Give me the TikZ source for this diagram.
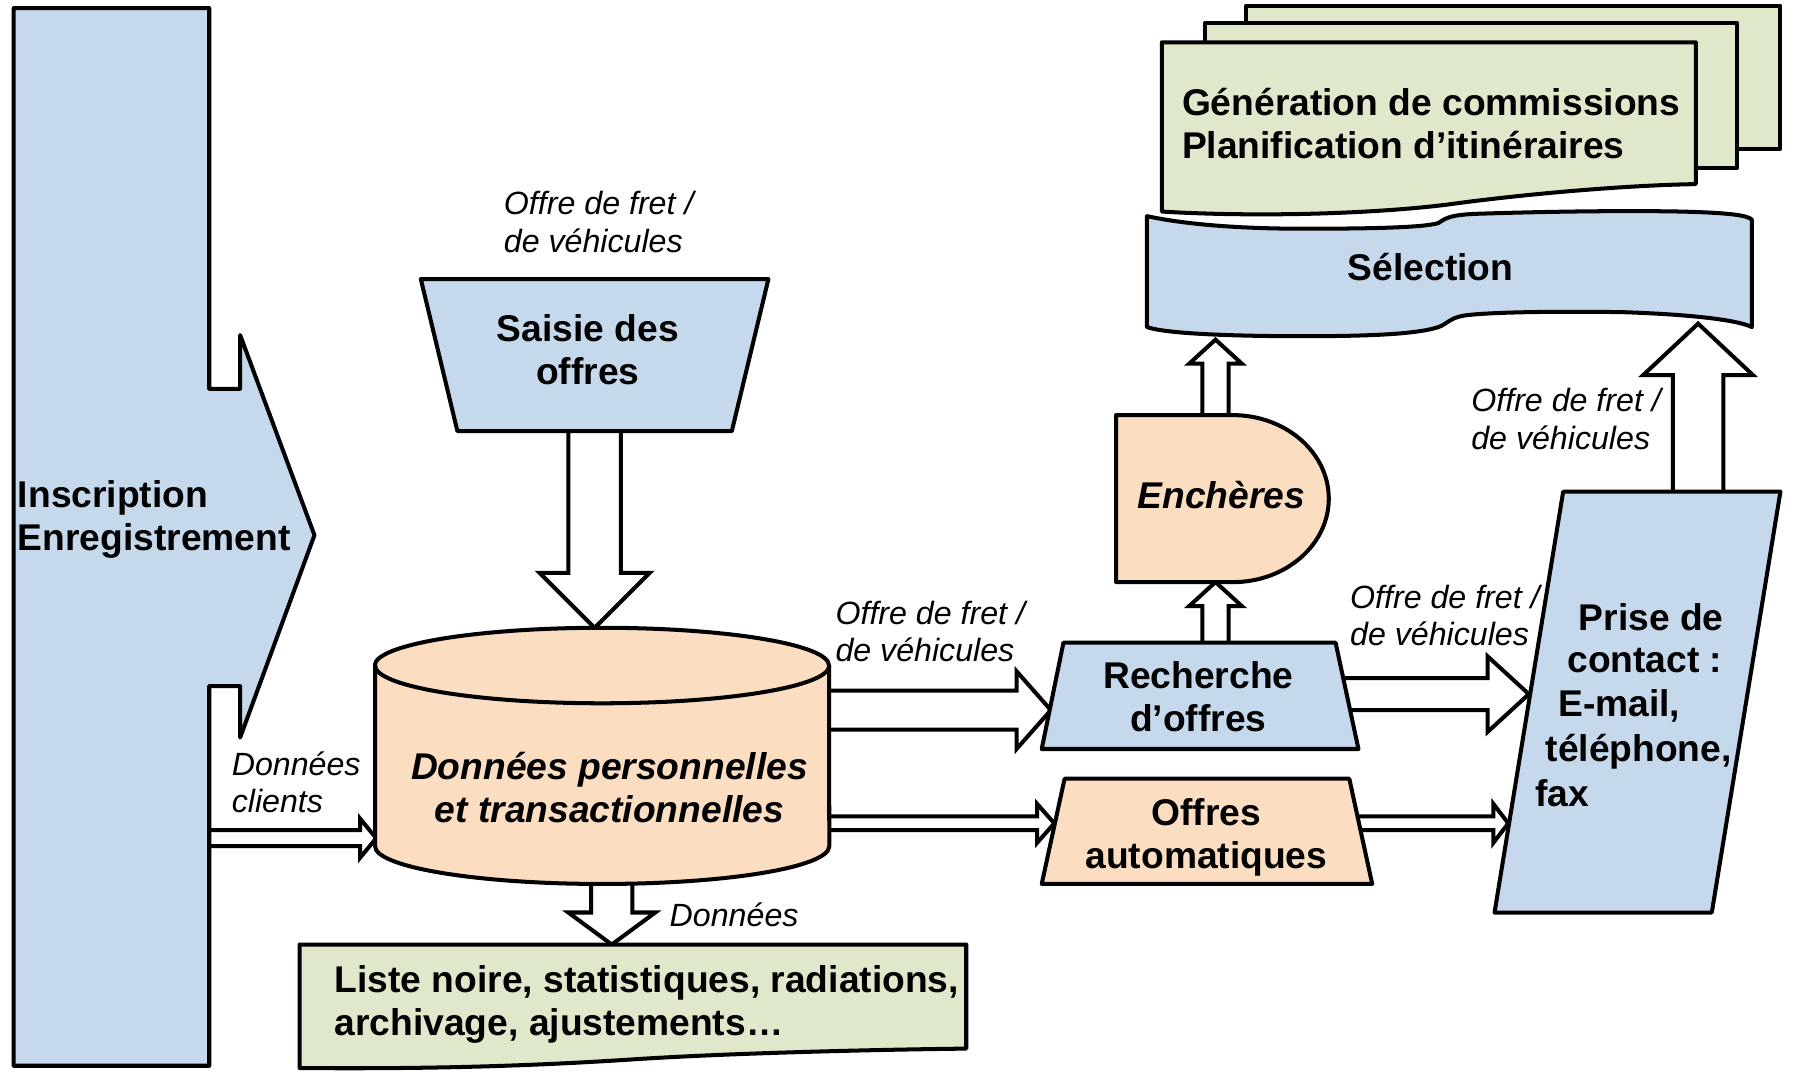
\documentclass[tikz,border=0pt]{standalone}
\usepackage{fontspec}
\setmainfont{Liberation Sans}
\usetikzlibrary{calc}
\definecolor{bfill}{HTML}{C6D8EC}
\definecolor{ofill}{HTML}{FBDDC2}
\definecolor{gfill}{HTML}{DFE8CA}
\tikzset{
  shp/.style={draw=black, line width=1pt, line join=round},
  barr/.style={draw=black, fill=white, line width=1pt, line join=miter},
  bt/.style={font=\fontsize{9.25}{10.6}\selectfont\bfseries, inner sep=0pt},
  bit/.style={font=\fontsize{9.25}{10.6}\selectfont\bfseries\itshape, inner sep=0pt},
  lbl/.style={font=\fontsize{8}{9.3}\selectfont\itshape, inner sep=0pt, anchor=base west},
}
\newcommand{\mylines}[2][l]{\begin{tabular}[t]{@{}#1@{}}#2\end{tabular}}
\newcommand{\blockarrow}[5]{%
  \coordinate (ba-hb) at ($(#2)!#5!(#1)$);
  \draw[barr] ($(#1)!#3!90:(#2)$) -- ($(ba-hb)!#3!90:(#2)$) -- ($(ba-hb)!#4!90:(#2)$) -- (#2)
    -- ($(ba-hb)!#4!-90:(#2)$) -- ($(ba-hb)!#3!-90:(#2)$) -- ($(#1)!#3!-90:(#2)$) -- cycle;}
\begin{document}
\begin{tikzpicture}[x=0.01cm, y=-0.01cm]
\useasboundingbox (0,0) rectangle (1568,941);

% ---------- connector end points ----------
\coordinate (insc-e) at (170,733);   \coordinate (cyl-w) at (329,733);
\coordinate (sai-s) at (520,370);    \coordinate (cyl-n) at (520,549);
\coordinate (cyl-s) at (535,760);    \coordinate (lst-n) at (535,826);
\coordinate (cyl-e1) at (700,621);   \coordinate (rch-w) at (919,621);
\coordinate (cyl-e2) at (700,720);   \coordinate (aut-w) at (922,720);
\coordinate (rch-e) at (1160,607);   \coordinate (pri-w1) at (1337,607);
\coordinate (aut-e) at (1180,720);   \coordinate (pri-w2) at (1319,720);
\coordinate (rch-n) at (1063,575);   \coordinate (enc-s) at (1063,509);
\coordinate (enc-n) at (1063,380);   \coordinate (sel-s1) at (1063,297);
\coordinate (pri-n) at (1485,445);   \coordinate (sel-s2) at (1485,283);

% ---------- block arrows (drawn below the shapes) ----------
\blockarrow{insc-e}{cyl-w}{0.07cm}{0.17cm}{0.14cm}
\blockarrow{sai-s}{cyl-n}{0.23cm}{0.48cm}{0.48cm}
\blockarrow{cyl-s}{lst-n}{0.18cm}{0.38cm}{0.28cm}
\blockarrow{cyl-e1}{rch-w}{0.17cm}{0.34cm}{0.30cm}
\blockarrow{cyl-e2}{aut-w}{0.06cm}{0.17cm}{0.15cm}
\blockarrow{rch-e}{pri-w1}{0.14cm}{0.33cm}{0.36cm}
\blockarrow{aut-e}{pri-w2}{0.06cm}{0.17cm}{0.13cm}
\blockarrow{rch-n}{enc-s}{0.115cm}{0.23cm}{0.21cm}
\blockarrow{enc-n}{sel-s1}{0.115cm}{0.23cm}{0.21cm}
\blockarrow{pri-n}{sel-s2}{0.22cm}{0.48cm}{0.45cm}

% ---------- shapes ----------
% Inscription big arrow
\draw[shp, fill=bfill] (12,7) -- (183,7) -- (183,340) -- (210,340) -- (210,293) -- (275,468)
  -- (210,645) -- (210,600) -- (183,600) -- (183,932) -- (12,932) -- cycle;
% Saisie des offres
\draw[shp, fill=bfill] (368,244) -- (672,244) -- (640,377) -- (400,377) -- cycle;
% cylinder
\draw[shp, fill=ofill] (328,582) -- (328,740) arc[start angle=180, end angle=360, x radius=1.985cm, y radius=0.33cm]
  -- (725,582) arc[start angle=0, end angle=180, x radius=1.985cm, y radius=0.33cm] -- cycle;
\draw[shp] (328,582) arc[start angle=180, end angle=360, x radius=1.985cm, y radius=0.33cm];
% Liste noire document
\draw[shp, fill=gfill] (262,826) -- (845,826) -- (845,917) .. controls (760,918) and (640,921) .. (560,926)
  .. controls (470,932) and (380,935) .. (262,934) -- cycle;
% Recherche
\draw[shp, fill=bfill] (930,562) -- (1168,562) -- (1188,655) -- (911,655) -- cycle;
% Offres automatiques
\draw[shp, fill=ofill] (931,681) -- (1180,681) -- (1200,773) -- (911,773) -- cycle;
% Encheres
\draw[shp, fill=ofill] (976,363) -- (1078,363) arc[start angle=90, end angle=-90, x radius=0.84cm, y radius=0.73cm]
  -- (976,509) -- cycle;
% Prise de contact
\draw[shp, fill=bfill] (1367,430) -- (1557,430) -- (1497,798) -- (1307,798) -- cycle;
% Selection
\draw[shp, fill=bfill] (1003,189) .. controls (1040,197) and (1090,200) .. (1140,200)
  .. controls (1200,200) and (1245,199) .. (1258,195) .. controls (1265,190) and (1270,188) .. (1290,187)
  .. controls (1350,185) and (1420,184) .. (1470,185) .. controls (1510,186) and (1528,188) .. (1532,192)
  -- (1532,286) .. controls (1520,280) and (1480,275) .. (1420,273) .. controls (1360,272) and (1300,273) .. (1280,276)
  .. controls (1268,278) and (1266,283) .. (1258,286) .. controls (1240,292) and (1200,294) .. (1140,294)
  .. controls (1080,294) and (1020,292) .. (1003,286) -- cycle;
% Generation stack
\draw[shp, fill=gfill] (1090,5) rectangle (1557,130);
\draw[shp, fill=gfill] (1054,20) rectangle (1519,147);
\draw[shp, fill=gfill] (1016,37) -- (1483,37) -- (1483,161) .. controls (1420,162) and (1330,170) .. (1265,179)
  .. controls (1200,187) and (1100,190) .. (1016,185) -- cycle;

% ---------- texts ----------
\node[bt, anchor=base west] (insc) at (15,444) {\mylines{Inscription\\Enregistrement}};
\node[bt, anchor=base] (saisie) at (514,299) {\mylines[c]{Saisie des\\offres}};
\node[bt, anchor=base west] (gen) at (1033,101) {\mylines{Génération de commissions\\Planification d’itinéraires}};
\node[bt, anchor=base] (sel) at (1251,245) {Sélection};
\node[bit, anchor=base] (ench) at (1068,445) {Enchères};
\node[bt, anchor=base] (rech) at (1048,602) {\mylines[c]{Recherche\\d’offres}};
\node[bt, anchor=base] (auto) at (1055,722) {\mylines[c]{Offres\\automatiques}};
\node[bit, anchor=base] (db) at (533,682) {\mylines[c]{Données personnelles\\et transactionnelles}};
\node[bt, anchor=base west] (liste) at (292,868) {\mylines{Liste noire, statistiques, radiations,\\archivage, ajustements…}};
\node[bt, anchor=base west] (p1) at (1380,551) {Prise de};
\node[bt, anchor=base west] (p2) at (1370,588) {contact :};
\node[bt, anchor=base west] (p3) at (1362,627) {E-mail,};
\node[bt, anchor=base west] (p4) at (1351,666) {téléphone,};
\node[bt, anchor=base west] (p5) at (1342,705) {fax};

\node[lbl] (l1) at (440,188) {\mylines{Offre de fret /\\de véhicules}};
\node[lbl] (l2) at (730,546) {\mylines{Offre de fret /\\de véhicules}};
\node[lbl] (l3) at (1180,532) {\mylines{Offre de fret /\\de véhicules}};
\node[lbl] (l4) at (1286,360) {\mylines{Offre de fret /\\de véhicules}};
\node[lbl] (l5) at (202,678) {\mylines{Données\\clients}};
\node[lbl] (l6) at (585,810) {Données};
\end{tikzpicture}
\end{document}
